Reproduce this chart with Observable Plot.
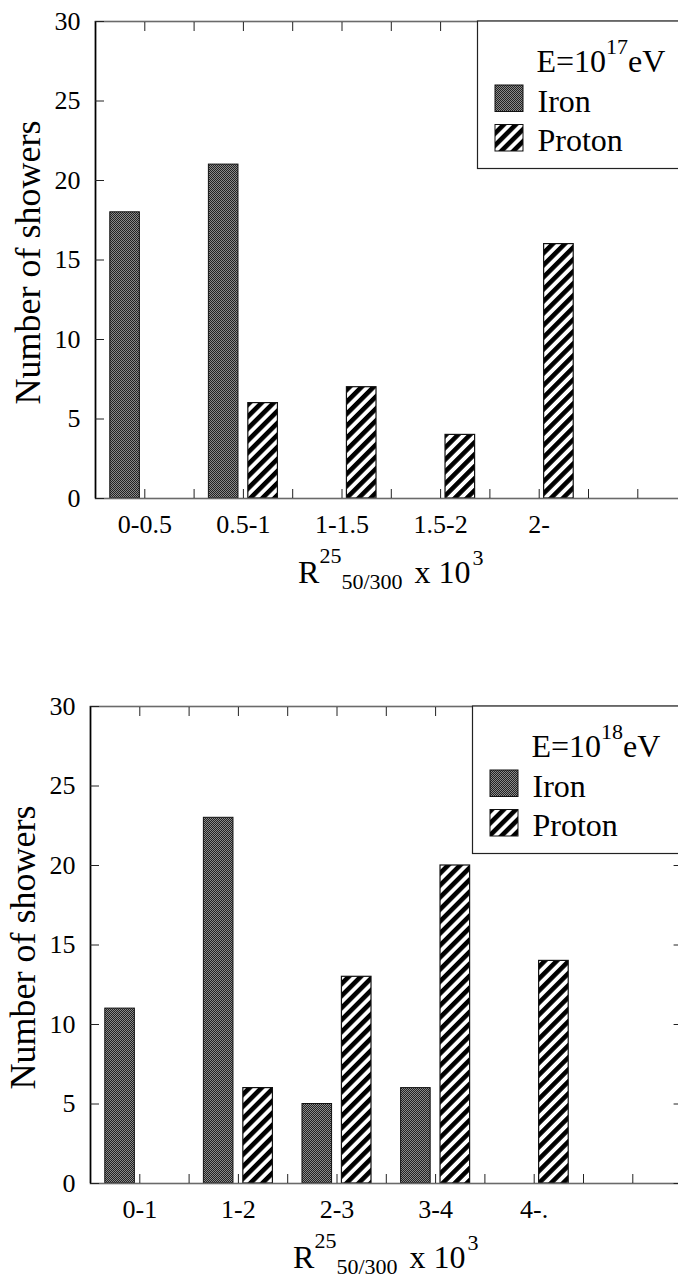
<!DOCTYPE html>
<html><head><meta charset="utf-8">
<script src="https://cdn.jsdelivr.net/npm/d3@7"></script>
<script src="https://cdn.jsdelivr.net/npm/@observablehq/plot@0.6"></script>
<style>
html,body{margin:0;padding:0;background:#fff;overflow:hidden;font-family:"Liberation Serif",serif;}
#root svg{display:block;}
</style></head><body>
<svg width="0" height="0" style="position:absolute;left:0;top:0">
<defs>
<pattern id="ironPat" width="2" height="2" patternUnits="userSpaceOnUse">
<rect width="2" height="2" fill="#8a8a8a"/>
<rect width="1" height="1" fill="#222"/>
<rect x="1" y="1" width="1" height="1" fill="#222"/>
</pattern>
<pattern id="protonPat" width="8.5" height="8.5" patternUnits="userSpaceOnUse" patternTransform="rotate(45)">
<rect width="8.5" height="8.5" fill="#fff"/>
<rect width="4.6" height="8.5" fill="#000"/>
</pattern>
</defs>
</svg>
<div id="root"></div>
<script>
// ---- data ----
const categoriesTop = ["0-0.5", "0.5-1", "1-1.5", "1.5-2", "2-"];
const ironTop = [18, 21, 0, 0, 0];
const protonTop = [0, 6, 7, 4, 16];

const categoriesBottom = ["0-1", "1-2", "2-3", "3-4", "4-."];
const ironBottom = [11, 23, 5, 6, 0];
const protonBottom = [0, 6, 13, 20, 14];

const energyExponents = ["17", "18"];
const seriesNames = ["Iron", "Proton"];
const yTicks = [0, 5, 10, 15, 20, 25, 30];
const xMinorTicks = [1, 2, 3, 4, 5, 6, 7, 8, 9, 10, 11];
const yLabel = "Number of showers";

const FONT = "Liberation Serif";

function makeChart({cats, iron, proton, exp, marginLeft, height, marginBottom}) {
  const marginTop = 21, unit = 49.3, xMax = 12;
  const marginRight = 678 - marginLeft - unit * xMax;
  const bars = (vals, off) => vals.map((v, i) => ({i, v}))
    .filter(d => d.v > 0)
    .map(d => ({...d, x1: 2 * d.i + off, x2: 2 * d.i + off + 0.6}));
  const labelTicks = cats.map((c, i) => 2 * i + 1);

  const svg = Plot.plot({
    width: 678, height, marginTop, marginBottom, marginLeft, marginRight,
    style: "font-family: 'Liberation Serif', serif; font-size: 26px; overflow: hidden; background: #fff; color: #000;",
    x: {domain: [0, xMax]},
    y: {domain: [0, 30]},
    marks: [
      Plot.rect(bars(iron, 0.3), {x1: "x1", x2: "x2", y1: 0, y2: "v", fill: "url(#ironPat)", stroke: "#111", strokeWidth: 1}),
      Plot.rect(bars(proton, 1.1), {x1: "x1", x2: "x2", y1: 0, y2: "v", fill: "url(#protonPat)", stroke: "#111", strokeWidth: 1.2}),
      Plot.frame({stroke: "#6a6a6a", strokeWidth: 1.6}),
      Plot.ruleX([0], {stroke: "#000", strokeWidth: 1.5}),
      Plot.axisX(xMinorTicks, {anchor: "bottom", tickSize: -9, tickFormat: () => "", label: null, stroke: "#222"}),
      Plot.axisX(xMinorTicks, {anchor: "top", tickSize: -9, tickFormat: () => "", label: null, stroke: "#222"}),
      Plot.axisX(labelTicks, {anchor: "bottom", tickSize: 0, tickPadding: 16, tickFormat: v => cats[(v - 1) / 2], label: null, fontSize: 26, fontFamily: FONT}),
      Plot.axisY(yTicks, {anchor: "left", tickSize: -9, tickFormat: () => "", label: null, stroke: "#222"}),
      Plot.axisY(yTicks, {anchor: "right", tickSize: -9, tickFormat: () => "", label: null, stroke: "#222"}),
      Plot.axisY(yTicks, {anchor: "left", tickSize: 0, tickPadding: 15, label: null, fontSize: 26, fontFamily: FONT})
    ]
  });

  const s = d3.select(svg);
  s.attr("font-family", FONT);
  const plotBottom = height - marginBottom;
  const plotCx = marginLeft + unit * xMax / 2;
  const plotCy = (marginTop + plotBottom) / 2;

  // y title
  s.append("text")
    .attr("transform", `translate(${marginLeft - 55},${plotCy + 3}) rotate(-90)`)
    .attr("text-anchor", "middle")
    .attr("font-size", 36)
    .text(yLabel);

  // x title: R^{25}_{50/300} x 10^{3}
  const xt = s.append("text")
    .attr("x", plotCx).attr("y", plotBottom + 85)
    .attr("text-anchor", "middle")
    .attr("font-size", 32);
  xt.append("tspan").text("R");
  xt.append("tspan").attr("font-size", 22).attr("dy", -20).text("25");
  xt.append("tspan").attr("font-size", 22).attr("dy", 26).text("50/300");
  xt.append("tspan").attr("dy", -6).attr("dx", 4).text(" x 10");
  xt.append("tspan").attr("font-size", 22).attr("dy", -18).attr("dx", 2).text("3");

  // legend
  const bx = marginLeft + 382.5, by = marginTop;
  const g = s.append("g").attr("font-size", 32).attr("text-anchor", "start");
  g.append("rect").attr("x", bx).attr("y", by).attr("width", 300).attr("height", 147.5)
    .attr("fill", "#fff").attr("stroke", "#222").attr("stroke-width", 1.2);
  const et = g.append("text").attr("x", bx + 59).attr("y", by + 51).attr("text-anchor", "start");
  et.append("tspan").text("E=10");
  et.append("tspan").attr("font-size", 22).attr("dy", -18).text(exp);
  et.append("tspan").attr("dy", 18).text("eV");
  const fills = ["url(#ironPat)", "url(#protonPat)"];
  seriesNames.forEach((name, k) => {
    const top = by + 64 + k * 39.5;
    g.append("rect").attr("x", bx + 17.5).attr("y", top).attr("width", 28).attr("height", 26.5)
      .attr("fill", fills[k]).attr("stroke", "#111").attr("stroke-width", 1);
    g.append("text").attr("x", bx + 60).attr("y", top + 26.5).attr("text-anchor", "start").text(name);
  });

  s.selectAll("text, tspan").attr("font-family", FONT).style("font-family", "'Liberation Serif', serif");
  return svg;
}

const root = document.getElementById("root");
root.appendChild(makeChart({cats: categoriesTop, iron: ironTop, proton: protonTop, exp: energyExponents[0], marginLeft: 95, height: 685, marginBottom: 187}));
root.appendChild(makeChart({cats: categoriesBottom, iron: ironBottom, proton: protonBottom, exp: energyExponents[1], marginLeft: 90, height: 594, marginBottom: 96}));
</script>
</body></html>
